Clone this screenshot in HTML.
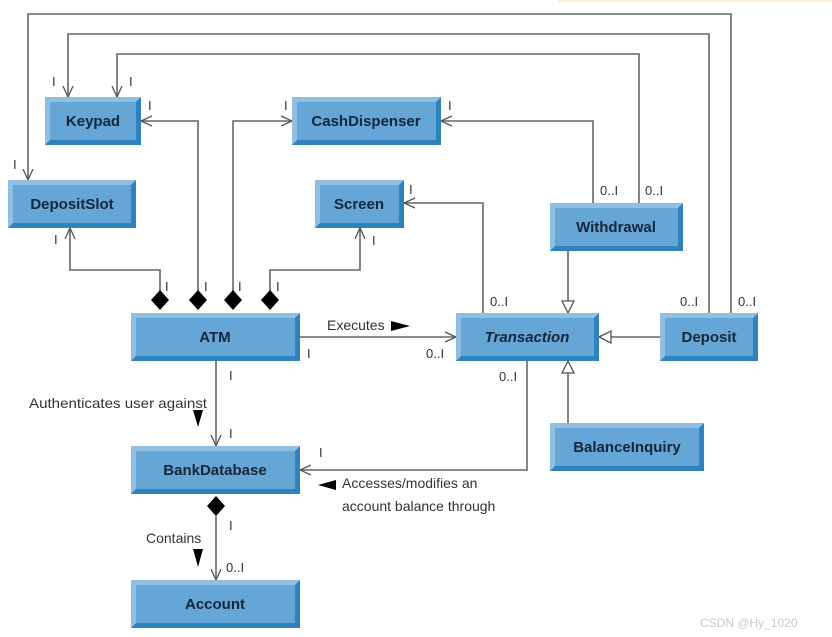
<!DOCTYPE html>
<html><head><meta charset="utf-8"><style>
html,body{margin:0;padding:0;background:#fff;}
svg{display:block;}
.b{font-family:"Liberation Sans",sans-serif;font-weight:bold;font-size:15px;fill:#16263a;text-anchor:middle;}
.t{font-family:"Liberation Sans",sans-serif;font-size:14px;fill:#333;}
.m{font-family:"Liberation Sans",sans-serif;font-size:13px;fill:#333;}
.l{stroke:#666;stroke-width:1.6;fill:none;}
</style></head><body>
<svg width="832" height="637" viewBox="0 0 832 637" xmlns="http://www.w3.org/2000/svg">
<defs>
<marker id="oa" viewBox="0 0 12 12" refX="11" refY="6" markerWidth="12" markerHeight="12" markerUnits="userSpaceOnUse" orient="auto"><path d="M0,1 L11,6 L0,11" fill="none" stroke="#555" stroke-width="1.3"/></marker>
<marker id="tri" viewBox="0 0 14 14" refX="13" refY="7" markerWidth="14" markerHeight="14" markerUnits="userSpaceOnUse" orient="auto"><path d="M1,1 L13,7 L1,13 Z" fill="#fff" stroke="#555" stroke-width="1.3"/></marker>
</defs>
<rect x="558" y="0" width="274" height="2" fill="#fcefd2"/>

<path class="l" d="M731,313 V14 H28 V180" marker-end="url(#oa)"/>
<path class="l" d="M709,313 V34 H68 V97" marker-end="url(#oa)"/>
<path class="l" d="M639,203 V54 H117 V97" marker-end="url(#oa)"/>
<path class="l" d="M160,300 V270 H70 V228" marker-end="url(#oa)"/>
<path class="l" d="M198,300 V121 H141" marker-end="url(#oa)"/>
<path class="l" d="M233,300 V121 H292" marker-end="url(#oa)"/>
<path class="l" d="M270,300 V270 H360 V228" marker-end="url(#oa)"/>
<path class="l" d="M593,203 V121 H441" marker-end="url(#oa)"/>
<path class="l" d="M483,313 V203 H404" marker-end="url(#oa)"/>
<path class="l" d="M568,251 V313" marker-end="url(#tri)"/>
<path class="l" d="M660,337 H599" marker-end="url(#tri)"/>
<path class="l" d="M568,423 V361" marker-end="url(#tri)"/>
<path class="l" d="M300,337 H456" marker-end="url(#oa)"/>
<path class="l" d="M216,361 V446" marker-end="url(#oa)"/>
<path class="l" d="M527,361 V470 H300" marker-end="url(#oa)"/>
<path class="l" d="M216,516 V580" marker-end="url(#oa)"/>

<g fill="#000">
<path d="M160,290 L169,300 L160,310 L151,300Z"/>
<path d="M198,290 L207,300 L198,310 L189,300Z"/>
<path d="M233,290 L242,300 L233,310 L224,300Z"/>
<path d="M270,290 L279,300 L270,310 L261,300Z"/>
<path d="M216,496 L225,506 L216,516 L207,506Z"/>
<path d="M391,321 L410,326 L391,331Z"/>
<path d="M193,410 L203,410 L198,427Z"/>
<path d="M318,485 L336,480 L336,490Z"/>
<path d="M193,549 L203,549 L198,567Z"/>
</g>

<g>
<g transform="translate(45,97)"><rect width="96" height="48" fill="#2f82bd"/><path d="M0,0 H96 L91,5 H5 V43 L0,48Z" fill="#8fc0e4"/><rect x="5" y="5" width="86" height="38" fill="#66a6d6"/></g>
<g transform="translate(292,97)"><rect width="149" height="48" fill="#2f82bd"/><path d="M0,0 H149 L144,5 H5 V43 L0,48Z" fill="#8fc0e4"/><rect x="5" y="5" width="139" height="38" fill="#66a6d6"/></g>
<g transform="translate(8,180)"><rect width="128" height="48" fill="#2f82bd"/><path d="M0,0 H128 L123,5 H5 V43 L0,48Z" fill="#8fc0e4"/><rect x="5" y="5" width="118" height="38" fill="#66a6d6"/></g>
<g transform="translate(315,180)"><rect width="89" height="48" fill="#2f82bd"/><path d="M0,0 H89 L84,5 H5 V43 L0,48Z" fill="#8fc0e4"/><rect x="5" y="5" width="79" height="38" fill="#66a6d6"/></g>
<g transform="translate(550,203)"><rect width="133" height="48" fill="#2f82bd"/><path d="M0,0 H133 L128,5 H5 V43 L0,48Z" fill="#8fc0e4"/><rect x="5" y="5" width="123" height="38" fill="#66a6d6"/></g>
<g transform="translate(131,313)"><rect width="169" height="48" fill="#2f82bd"/><path d="M0,0 H169 L164,5 H5 V43 L0,48Z" fill="#8fc0e4"/><rect x="5" y="5" width="159" height="38" fill="#66a6d6"/></g>
<g transform="translate(456,313)"><rect width="143" height="48" fill="#2f82bd"/><path d="M0,0 H143 L138,5 H5 V43 L0,48Z" fill="#8fc0e4"/><rect x="5" y="5" width="133" height="38" fill="#66a6d6"/></g>
<g transform="translate(660,313)"><rect width="98" height="48" fill="#2f82bd"/><path d="M0,0 H98 L93,5 H5 V43 L0,48Z" fill="#8fc0e4"/><rect x="5" y="5" width="88" height="38" fill="#66a6d6"/></g>
<g transform="translate(550,423)"><rect width="154" height="48" fill="#2f82bd"/><path d="M0,0 H154 L149,5 H5 V43 L0,48Z" fill="#8fc0e4"/><rect x="5" y="5" width="144" height="38" fill="#66a6d6"/></g>
<g transform="translate(131,446)"><rect width="169" height="48" fill="#2f82bd"/><path d="M0,0 H169 L164,5 H5 V43 L0,48Z" fill="#8fc0e4"/><rect x="5" y="5" width="159" height="38" fill="#66a6d6"/></g>
<g transform="translate(131,580)"><rect width="169" height="48" fill="#2f82bd"/><path d="M0,0 H169 L164,5 H5 V43 L0,48Z" fill="#8fc0e4"/><rect x="5" y="5" width="159" height="38" fill="#66a6d6"/></g>
</g>

<text class="b" x="93" y="126">Keypad</text>
<text class="b" x="366" y="126">CashDispenser</text>
<text class="b" x="72" y="209">DepositSlot</text>
<text class="b" x="359" y="209">Screen</text>
<text class="b" x="616" y="232">Withdrawal</text>
<text class="b" x="215" y="342">ATM</text>
<text class="b" x="527" y="342" font-style="italic">Transaction</text>
<text class="b" x="709" y="342">Deposit</text>
<text class="b" x="627" y="452">BalanceInquiry</text>
<text class="b" x="215" y="475">BankDatabase</text>
<text class="b" x="215" y="609">Account</text>

<g class="m">
<text x="52" y="86">I</text><text x="129" y="86">I</text>
<text x="148" y="110">I</text><text x="284" y="110">I</text><text x="448" y="110">I</text>
<text x="13" y="169">I</text><text x="54" y="244">I</text>
<text x="409" y="194">I</text><text x="372" y="245">I</text>
<text x="165" y="291">I</text><text x="204" y="291">I</text><text x="238" y="291">I</text><text x="276" y="291">I</text>
<text x="600" y="195">0..I</text><text x="645" y="195">0..I</text>
<text x="490" y="306">0..I</text><text x="680" y="306">0..I</text><text x="738" y="306">0..I</text>
<text x="307" y="358">I</text><text x="426" y="358">0..I</text><text x="499" y="381">0..I</text>
<text x="229" y="380">I</text><text x="229" y="438">I</text>
<text x="319" y="457">I</text>
<text x="229" y="530">I</text><text x="226" y="572">0..I</text>
</g>
<g class="t">
<text x="327" y="330">Executes</text>
<text x="29" y="408" textLength="178" lengthAdjust="spacingAndGlyphs">Authenticates user against</text>
<text x="342" y="488">Accesses/modifies an</text>
<text x="342" y="511">account balance through</text>
<text x="146" y="543">Contains</text>
</g>
<text x="700" y="627" font-family="Liberation Sans,sans-serif" font-size="12" fill="#c8c8c8">CSDN @Hy_1020</text>
</svg>
</body></html>
